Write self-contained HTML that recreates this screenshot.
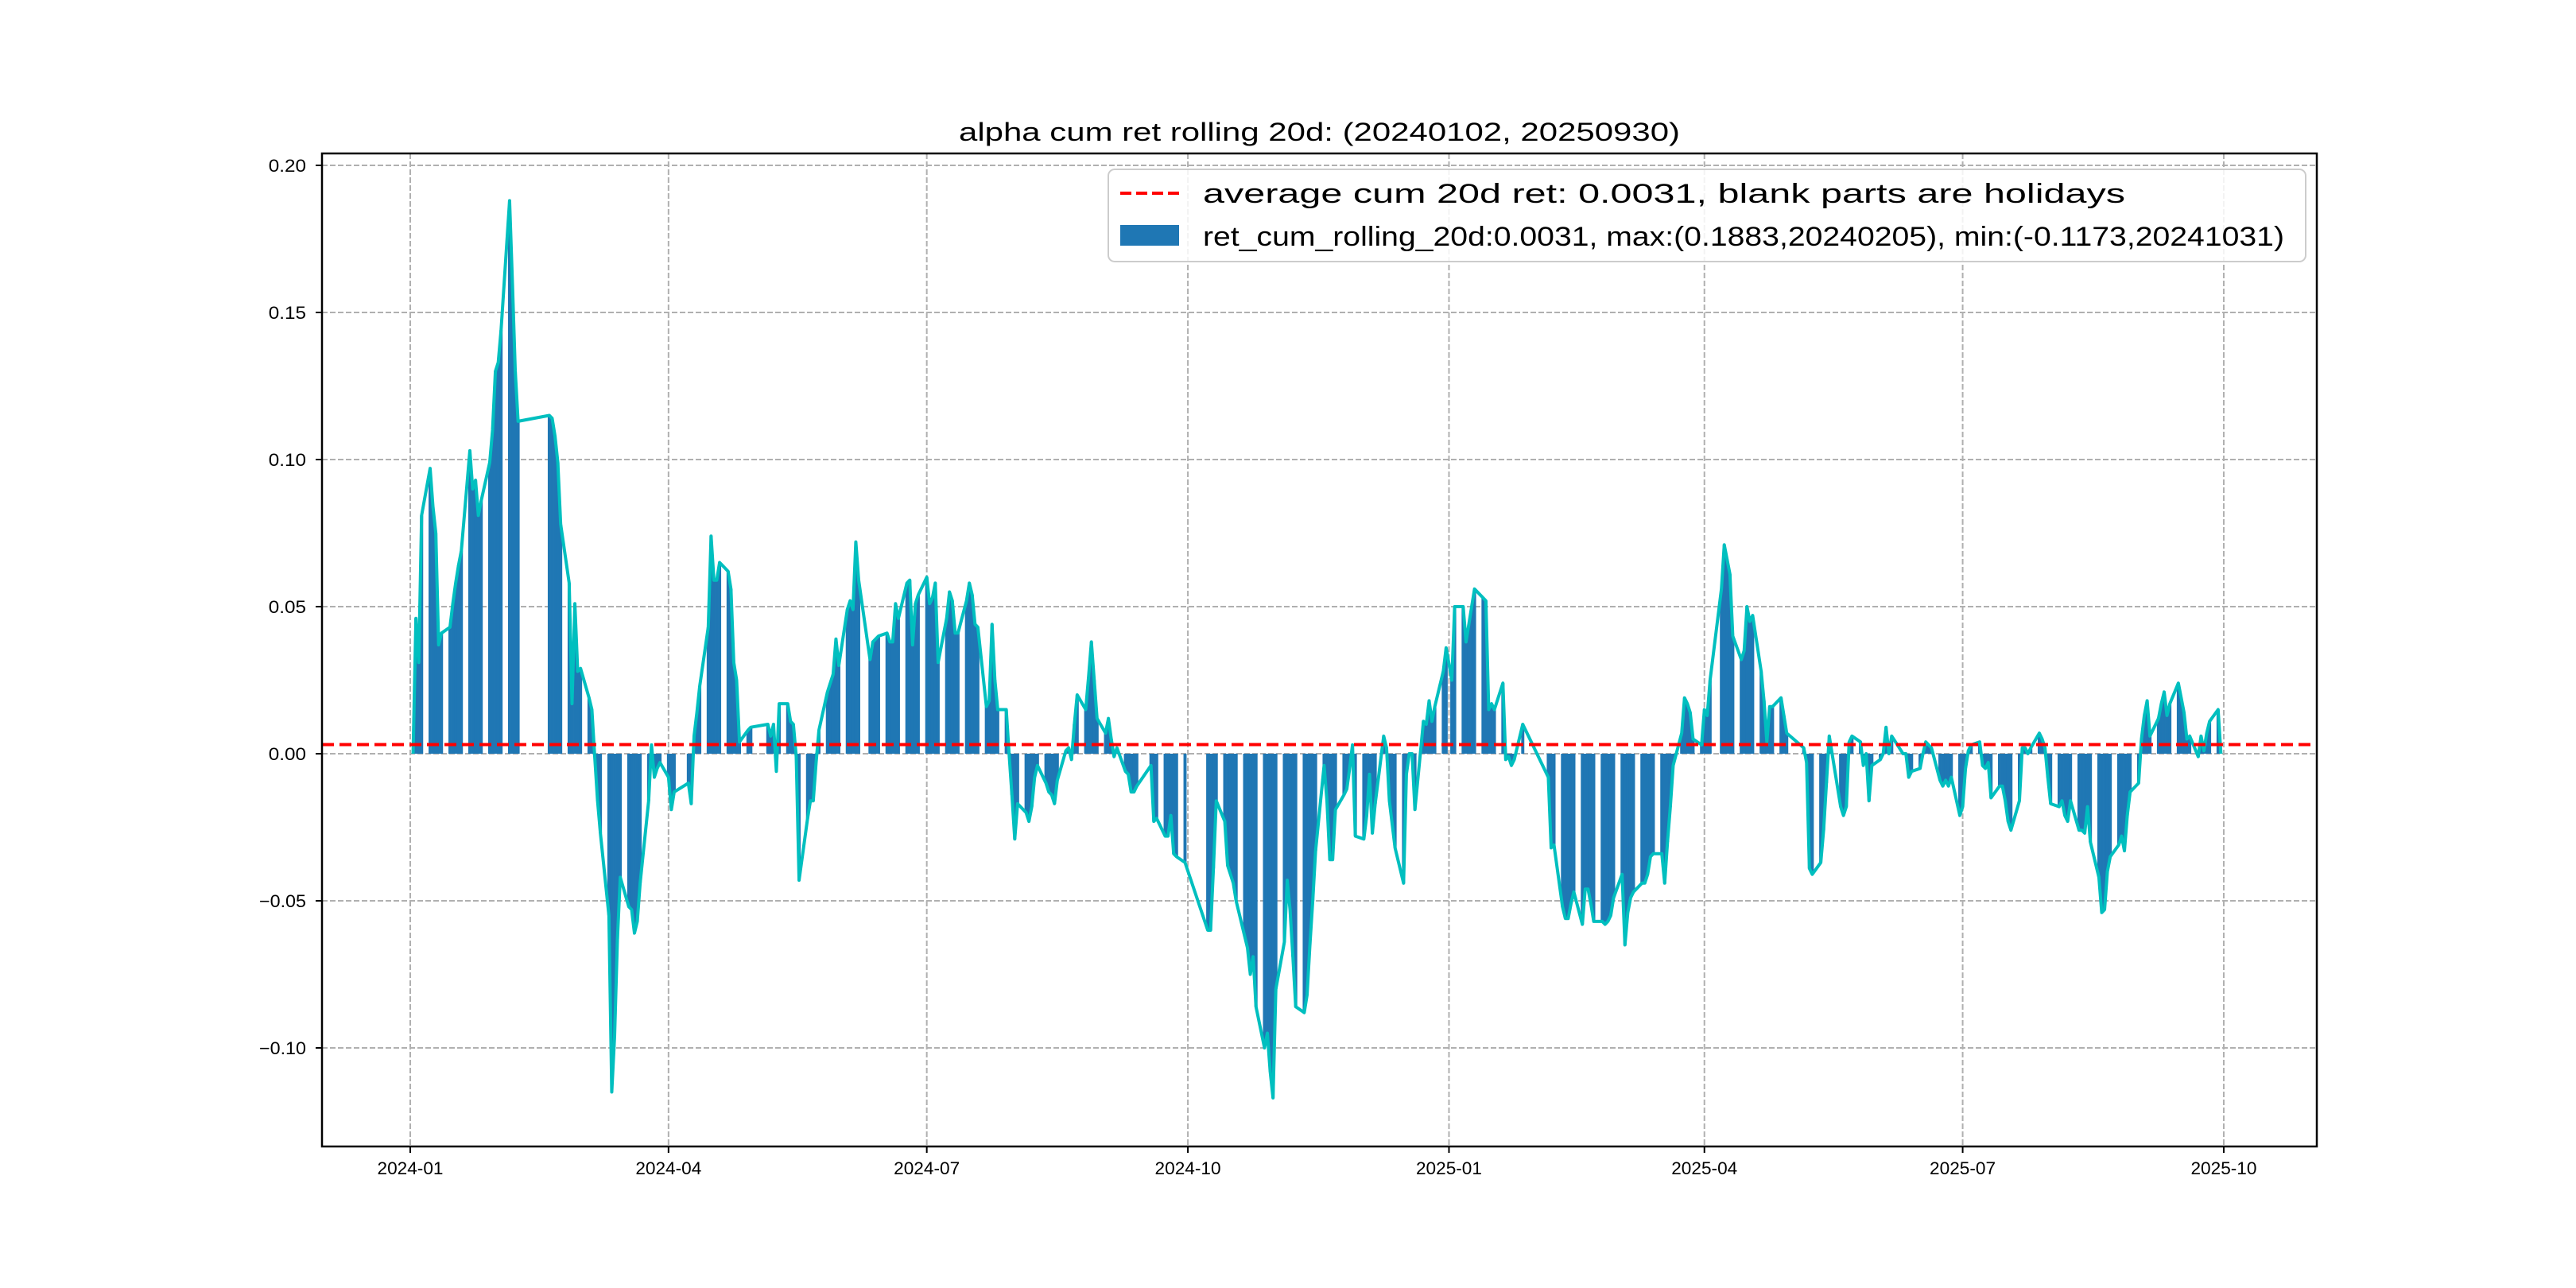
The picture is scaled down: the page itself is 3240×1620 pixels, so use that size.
<!DOCTYPE html>
<html><head><meta charset="utf-8"><title>alpha cum ret rolling 20d</title>
<style>html,body{margin:0;padding:0;background:#fff;}svg{display:block;}text{font-family:"Liberation Sans","Noto Sans CJK SC",sans-serif;fill:#000;}</style>
</head><body>
<svg id="chart" xmlns="http://www.w3.org/2000/svg" width="3240" height="1620" viewBox="0 0 3240 1620">
<rect x="0" y="0" width="3240" height="1620" fill="#fff"/>
<text x="1206" y="177" font-size="32" textLength="907" lengthAdjust="spacingAndGlyphs">alpha cum ret rolling 20d: (20240102, 20250930)</text>
<g id="grid"></g>
<g id="bars"></g>
<g id="lineg"></g>
<g id="avgg"></g>
<rect x="405" y="193" width="2509" height="1249" fill="none" stroke="#000" stroke-width="2.5"/>
<g id="ticks"></g>
<g>
<rect x="1394" y="213" width="1506" height="116" rx="8" fill="#fff" fill-opacity="0.85" stroke="#cccccc" stroke-width="2"/>
<line x1="1409" y1="243" x2="1483" y2="243" stroke="#ff0000" stroke-width="4" stroke-dasharray="14,6"/>
<text x="1513" y="255" font-size="34" textLength="1160" lengthAdjust="spacingAndGlyphs">average cum 20d ret: 0.0031, blank parts are holidays</text>
<rect x="1409" y="283" width="74" height="26" fill="#1f77b4"/>
<text x="1513" y="309" font-size="34" textLength="1360" lengthAdjust="spacingAndGlyphs">ret_cum_rolling_20d:0.0031, max:(0.1883,20240205), min:(-0.1173,20241031)</text>
</g>
</svg>
<script>
// weekly values Mon..Fri starting week of 2024-01-01; null = holiday
const weeks2024a = [
[null,0.0,0.046,0.031,0.081],[0.097,0.084,0.075,0.037,0.041],[0.043,0.051,0.058,0.064,0.069],[0.103,0.090,0.093,0.081,0.086],
[0.099,0.110,0.130,0.133,0.144],[0.188,0.160,0.130,0.113,null],[null,null,null,null,null],[0.115,0.114,0.108,0.099,0.078],
[0.058,0.017,0.051,0.028,0.029],[0.019,0.015,-0.001,-0.016,-0.027],[-0.055,-0.115,-0.096,-0.063,-0.042],[-0.052,-0.053,-0.061,-0.057,-0.044],
[-0.016,0.003,-0.008,-0.005,-0.003],[-0.008,-0.019,-0.013,null,null],[-0.010,-0.017,0.006,0.014,0.023],[0.043,0.074,0.059,0.059,0.065],
[0.062,0.056,0.031,0.025,0.004],[0.008,0.009,null,null,null],[0.010,0.006,0.010,-0.006,0.017],[0.017,0.011,0.010,-0.001,-0.043],
[-0.022,-0.016,-0.016,-0.003,0.008],[0.021,0.024,0.027,0.039,0.030],[0.049,0.052,0.049,0.072,0.059],[null,0.032,0.038,0.039,0.040]
];
const weeks2024b = [
[0.041,0.038,0.038,0.051,0.046],[0.058,0.059,0.037,0.051,0.054],[0.060,0.051,0.053,0.058,0.031],[0.046,0.055,0.052,0.041,0.041],
[0.052,0.058,0.054,0.044,0.043],[0.016,0.018,0.044,0.025,0.015],[0.015,0.000,-0.014,-0.029,-0.017],[-0.020,-0.023,-0.018,-0.008,-0.004],
[-0.010,-0.013,-0.014,-0.017,-0.009],[0.001,0.002,-0.002,0.010,0.020],[0.015,0.026,0.038,0.025,0.012],[0.007,0.012,0.005,-0.001,0.002],
[-0.006,-0.007,-0.013,-0.013,-0.011],[null,null,-0.004,-0.023,-0.022],[-0.028,-0.028,-0.021,-0.034,-0.035],[-0.037,null,null,null,null],
[null,-0.060,-0.060,-0.039,-0.016],[-0.023,-0.038,-0.041,-0.044,-0.050],[-0.062,-0.066,-0.075,-0.069,-0.086],[-0.100,-0.095,-0.108,-0.117,-0.080],
[-0.064,-0.043,-0.053,-0.069,-0.086],[-0.088,-0.082,-0.065,-0.050,-0.033],[-0.004,-0.016,-0.036,-0.036,-0.019],[-0.014,-0.012,-0.005,0.003,-0.028],
[-0.029,-0.021,-0.007,-0.027,-0.017],[0.006,0.002,-0.016,-0.024,-0.032],[-0.044,-0.007,0.000,-0.000,-0.019],[0.011,0.010,0.018,0.011,0.016]
];
const weeks2025a = [
[0.028,0.036,null,0.025,0.050],[0.050,0.038,0.044,0.050,0.056],[0.053,0.052,0.015,0.017,0.015],[0.024,-0.002,-0.001,-0.004,-0.002],
[0.010,null,null,null,null],[null,null,-0.008,-0.032,-0.031],[-0.052,-0.056,-0.056,-0.051,-0.047],[-0.058,-0.046,-0.046,-0.051,-0.057],
[-0.057,-0.058,-0.057,-0.055,-0.049],[-0.041,-0.065,-0.054,-0.049,-0.047],[-0.044,-0.044,-0.041,-0.035,-0.034],[-0.034,-0.044,-0.030,-0.018,-0.004],
[0.007,0.019,0.017,0.014,0.005],[0.003,0.015,0.013,0.025,null],[0.056,0.071,0.066,0.061,0.040],[0.032,0.035,0.050,0.045,0.047],
[0.028,0.018,0.004,0.016,0.016],[0.019,0.013,0.007,null,null],[null,0.002,-0.003,-0.039,-0.041],[-0.037,-0.026,-0.010,0.006,0.000],
[-0.018,-0.021,-0.018,0.004,0.006],[0.004,-0.004,0.000,-0.016,-0.004],[-0.002,0.000,0.009,-0.000,0.006]
];
const weeks2025b = [
[null,0.000,0.000,-0.008,-0.006],[-0.005,0.000,0.004,0.003,0.002],[-0.009,-0.011,-0.009,-0.011,-0.008],[-0.021,-0.018,-0.005,0.001,0.003],
[0.004,-0.004,-0.005,-0.003,-0.015],[-0.011,-0.011,-0.016,-0.023,-0.026],[-0.016,0.002,0.002,-0.000,0.002],[0.007,0.005,0.002,-0.008,-0.017],
[-0.018,-0.016,-0.021,-0.023,-0.016],[-0.026,-0.026,-0.027,-0.018,-0.030],[-0.042,-0.054,-0.053,-0.040,-0.035],[-0.031,-0.028,-0.033,-0.021,-0.013],
[-0.010,0.005,0.013,0.018,0.006],[0.012,0.017,0.021,0.013,0.017],[0.024,0.019,0.014,0.005,0.006],[-0.001,0.006,0.001,0.007,0.011],
[0.015,-0.000]
];
const averageValue = 0.0031;
const yTicks = [-0.10,-0.05,0.00,0.05,0.10,0.15,0.20];
const yTickLabels = ["\u22120.10","\u22120.05","0.00","0.05","0.10","0.15","0.20"];
const xTickLabels = ["2024-01","2024-04","2024-07","2024-10","2025-01","2025-04","2025-07","2025-10"];

const NS="http://www.w3.org/2000/svg";
const X0=516, PXDAY=3.5696, Y0=948, PXUNIT=3700;
const AX_L=405, AX_R=2914, AX_T=193, AX_B=1442;
function xScale(day){return X0+day*PXDAY;}
function yScale(v){return Y0-v*PXUNIT;}
function dayOf(label){const p=label.split('-');return (Date.UTC(+p[0],+p[1]-1,1)-Date.UTC(2024,0,1))/86400000;}
function mk(tag,attrs,parent){const e=document.createElementNS(NS,tag);for(const k in attrs)e.setAttribute(k,attrs[k]);parent.appendChild(e);return e;}

const allWeeks=weeks2024a.concat(weeks2024b,weeks2025a,weeks2025b);
const pts=[];
allWeeks.forEach((wk,w)=>wk.forEach((v,d)=>{if(v!==null)pts.push({day:w*7+d,v:v});}));

const grid=document.getElementById('grid');
yTicks.forEach((t,i)=>{
  const l=mk('line',{x1:AX_L,x2:AX_R,y1:yScale(t),y2:yScale(t),stroke:'#b0b0b0','stroke-width':2,'stroke-dasharray':'7,3'},grid);
  
  
});
xTickLabels.forEach(lab=>{
  const x=xScale(dayOf(lab));
  const l=mk('line',{x1:x,x2:x,y1:AX_T,y2:AX_B,stroke:'#b0b0b0','stroke-width':2,'stroke-dasharray':'7,3'},grid);
  
  
});

const bars=document.getElementById('bars');
pts.forEach(p=>{
  const y=yScale(p.v), y0=yScale(0);
  const r=mk('rect',{x:xScale(p.day)-0.55*PXDAY,y:Math.min(y,y0),width:1.1*PXDAY,height:Math.abs(y-y0),fill:'#1f77b4'},bars);
  
  
});

const lineg=document.getElementById('lineg');
const path=mk('polyline',{points:pts.map(p=>xScale(p.day).toFixed(2)+','+yScale(p.v).toFixed(2)).join(' '),fill:'none',stroke:'#00bfbf','stroke-width':4,'stroke-linejoin':'round'},lineg);



const avgg=document.getElementById('avgg');
const av=mk('line',{x1:AX_L,x2:AX_R,y1:yScale(averageValue),y2:yScale(averageValue),stroke:'#ff0000','stroke-width':4,'stroke-dasharray':'15,7'},avgg);



const ticks=document.getElementById('ticks');
yTicks.forEach((t,i)=>{
  const y=yScale(t);
  const tk=mk('line',{x1:AX_L-8,x2:AX_L,y1:y,y2:y,stroke:'#000','stroke-width':2},ticks);
  
  
  const lab=yTickLabels[i];
  const tx=mk('text',{x:385,y:y+8,'font-size':22,'text-anchor':'end',textLength:lab.length*11.8,lengthAdjust:'spacingAndGlyphs'},ticks);
  tx.textContent=lab;
  
  
});
xTickLabels.forEach(lab=>{
  const x=xScale(dayOf(lab));
  const tk=mk('line',{x1:x,x2:x,y1:AX_B,y2:AX_B+8,stroke:'#000','stroke-width':2},ticks);
  
  
  const tx=mk('text',{x:x-41.5,y:1477,'font-size':22,textLength:83,lengthAdjust:'spacingAndGlyphs'},ticks);
  tx.textContent=lab;
  
  
});
</script>
</body></html>
